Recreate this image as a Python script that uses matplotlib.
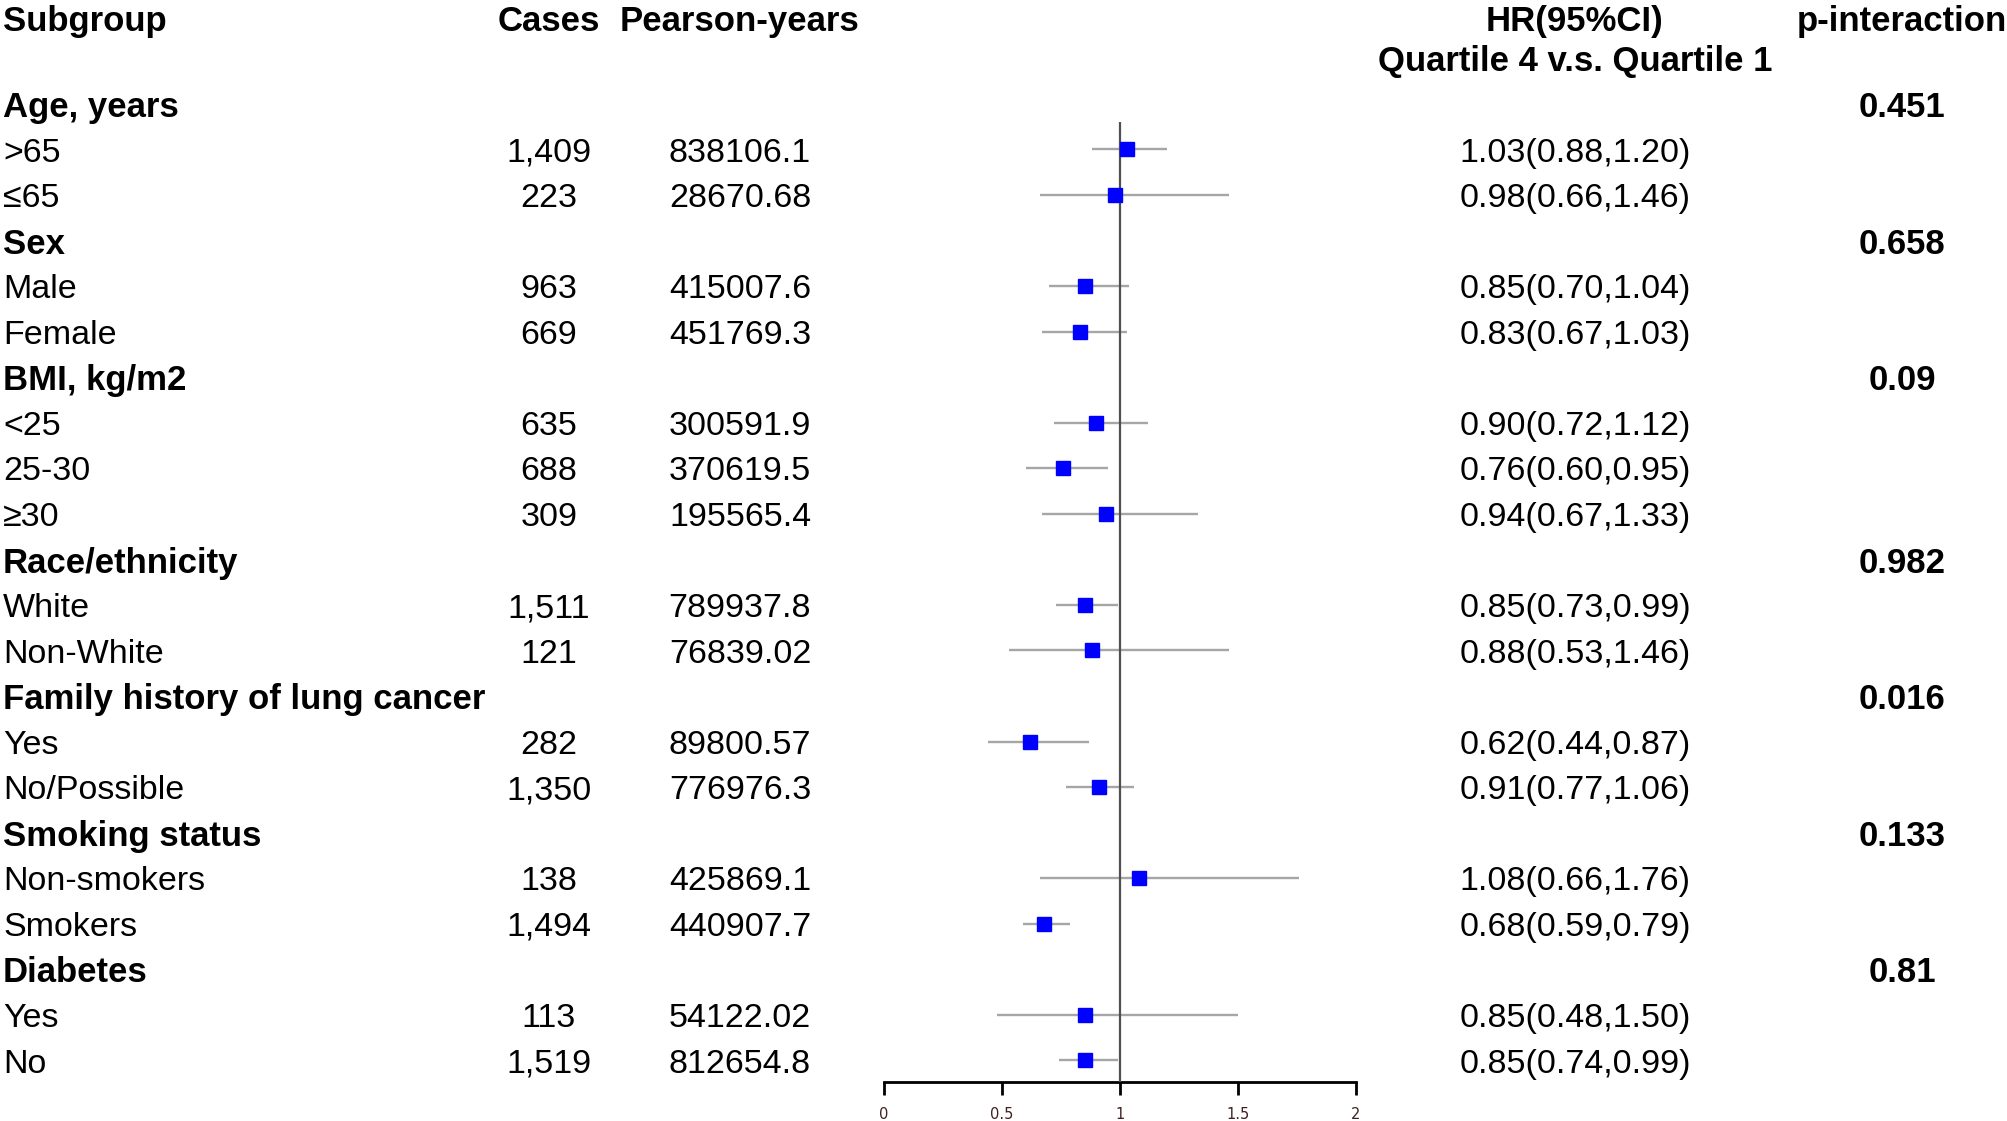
import matplotlib
matplotlib.use("Agg")
import matplotlib.pyplot as plt
import matplotlib.transforms as mtransforms

plt.rcParams['font.family'] = ['Liberation Sans Narrow', 'Liberation Sans', 'DejaVu Sans']

groups = ["Age, years", "Sex", "BMI, kg/m2", "Race/ethnicity",
          "Family history of lung cancer", "Smoking status", "Diabetes"]
p_inter = ["0.451", "0.658", "0.09", "0.982", "0.016", "0.133", "0.81"]
sub_labels = [[">65", "≤65"], ["Male", "Female"], ["<25", "25-30", "≥30"],
              ["White", "Non-White"], ["Yes", "No/Possible"],
              ["Non-smokers", "Smokers"], ["Yes", "No"]]
cases = ["1,409", "223", "963", "669", "635", "688", "309", "1,511", "121",
         "282", "1,350", "138", "1,494", "113", "1,519"]
person_years = ["838106.1", "28670.68", "415007.6", "451769.3", "300591.9",
                "370619.5", "195565.4", "789937.8", "76839.02", "89800.57",
                "776976.3", "425869.1", "440907.7", "54122.02", "812654.8"]
hr = [1.03, 0.98, 0.85, 0.83, 0.90, 0.76, 0.94, 0.85, 0.88, 0.62, 0.91, 1.08, 0.68, 0.85, 0.85]
lo = [0.88, 0.66, 0.70, 0.67, 0.72, 0.60, 0.67, 0.73, 0.53, 0.44, 0.77, 0.66, 0.59, 0.48, 0.74]
hi = [1.20, 1.46, 1.04, 1.03, 1.12, 0.95, 1.33, 0.99, 1.46, 0.87, 1.06, 1.76, 0.79, 1.50, 0.99]
ticks = [0, 0.5, 1, 1.5, 2]

W, H = 2008, 1121
fig = plt.figure(figsize=(W / 100, H / 100), dpi=100)

# forest panel: x 0..2 spans px 884..1356, bottom spine at px 1082
row_h = 45.55
top_off = 12.8
axis_px = 1082
ax = fig.add_axes([884 / W, 1 - axis_px / H, 472 / W, axis_px / H])
ax.set_xlim(0, 2)
ax.set_ylim((axis_px - top_off) / row_h, -top_off / row_h)

# row positions
rows_group = []
rows_sub = []
r = 2
for g, subs in zip(groups, sub_labels):
    rows_group.append(r)
    r += 1
    for s in subs:
        rows_sub.append(r)
        r += 1
flat_labels = [s for subs in sub_labels for s in subs]

# CI lines and squares
ax.hlines(rows_sub, lo, hi, color="#a6a6a6", lw=1.7, zorder=2)
ax.vlines(1, 2.4, ax.get_ylim()[0], color="#505050", lw=1.6, zorder=3)
ax.plot(hr, rows_sub, "s", color="#0000ff", ms=10, mec="#0000ff", zorder=4)

for side in ["top", "left", "right"]:
    ax.spines[side].set_visible(False)
ax.spines["bottom"].set_linewidth(2)
ax.set_yticks([])
ax.set_xticks(ticks)
ax.set_xticklabels([f"{t:g}" for t in ticks], fontsize=10.5, color="#402020",
                   family=["DejaVu Sans"])
ax.tick_params(axis="x", direction="out", length=9, width=2, pad=9)
ax.patch.set_visible(False)

# text columns
tr = mtransforms.blended_transform_factory(fig.transFigure, ax.transData)
x_sub = 3 / W
x_cases = 549 / W
x_py = 740 / W
x_hr = 1575 / W
x_p = 1902 / W
dy = 0.08

def put(x, y, s, ha="center", bold=False):
    fig.text(x, y + dy, s, transform=tr, ha=ha, va="center",
             fontsize=25 if bold else 24.5,
             fontweight="bold" if bold else "normal", color="black")

hy = 0.12
put(x_sub, hy, "Subgroup", ha="left", bold=True)
put(x_cases, hy, "Cases", bold=True)
put(x_py, hy, "Pearson-years", bold=True)
put(x_hr, hy, "HR(95%CI)", bold=True)
put(x_hr, 1, "Quartile 4 v.s. Quartile 1", bold=True)
put(x_p, hy, "p-interaction", bold=True)

for y, g, p in zip(rows_group, groups, p_inter):
    put(x_sub, y, g, ha="left", bold=True)
    put(x_p, y, p, bold=True)

for y, lab, c, py, h, l, u in zip(rows_sub, flat_labels, cases, person_years, hr, lo, hi):
    put(x_sub, y, lab, ha="left")
    put(x_cases, y, c)
    put(x_py, y, py)
    put(x_hr, y, f"{h:.2f}({l:.2f},{u:.2f})")

fig.savefig("out.png", dpi=100, facecolor="white")
